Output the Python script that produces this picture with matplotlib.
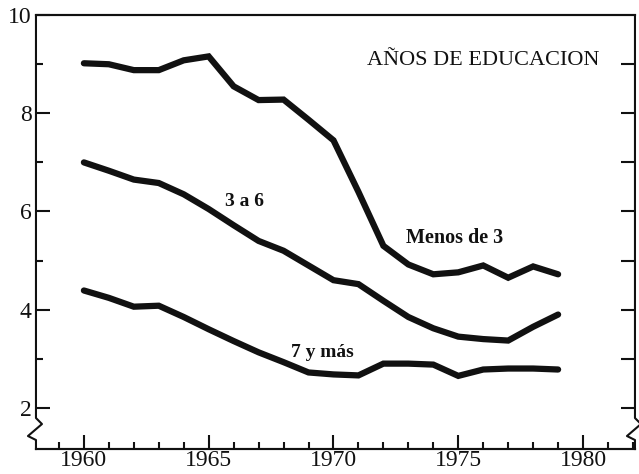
import matplotlib.pyplot as plt
from matplotlib.ticker import MultipleLocator

years = list(range(1960, 1980))
menos_de_3 = [9.02, 9.0, 8.88, 8.88, 9.08, 9.16, 8.55, 8.27, 8.28, 7.87, 7.45,
              6.4, 5.3, 4.92, 4.72, 4.76, 4.9, 4.65, 4.88, 4.72]
tres_a_seis = [7.0, 6.83, 6.65, 6.58, 6.35, 6.05, 5.72, 5.4, 5.2, 4.9, 4.6,
               4.52, 4.18, 3.85, 3.62, 3.45, 3.4, 3.37, 3.65, 3.9]
siete_y_mas = [4.39, 4.24, 4.06, 4.08, 3.85, 3.6, 3.36, 3.13, 2.93, 2.72, 2.68,
               2.66, 2.9, 2.9, 2.88, 2.65, 2.78, 2.8, 2.8, 2.78]

plt.rcParams['font.family'] = ['Liberation Serif', 'DejaVu Serif']

fig = plt.figure(figsize=(6.39, 4.74), dpi=100)
ax = fig.add_axes([0.0563, 0.0527, 0.9374, 0.9153])

ink = '#111111'
for serie in (menos_de_3, tres_a_seis, siete_y_mas):
    ax.plot(years, serie, color=ink, lw=4.5, solid_joinstyle='miter',
            solid_capstyle='round')

ax.set_xlim(1958.08, 1982.08)
ax.set_ylim(1.16, 10)

# ejes con ticks hacia adentro
ax.xaxis.set_major_locator(MultipleLocator(5))
ax.xaxis.set_minor_locator(MultipleLocator(1))
ax.yaxis.set_major_locator(MultipleLocator(2))
ax.yaxis.set_minor_locator(MultipleLocator(1))
ax.tick_params(axis='both', which='major', direction='in', length=10, width=1.5,
               labelsize=17, color=ink, labelcolor=ink)
ax.tick_params(axis='both', which='minor', direction='in', length=5, width=1.5,
               color=ink)
ax.tick_params(axis='x', pad=1)
ax.tick_params(axis='y', pad=3)
ax.set_yticks([2, 4, 6, 8, 10])
ax.set_xticks(range(1960, 1981, 5))

# ticks del lado derecho (todos iguales)
ax2 = ax.twinx()
ax2.set_ylim(ax.get_ylim())
ax2.set_yticks(range(2, 10))
ax2.tick_params(axis='y', direction='in', length=10, width=1.5, labelright=False,
                color=ink)

for a in (ax, ax2):
    a.spines['left'].set_visible(False)
    a.spines['right'].set_visible(False)
    a.spines['top'].set_linewidth(1.5)
    a.spines['bottom'].set_linewidth(1.5)
    a.spines['top'].set_color(ink)
    a.spines['bottom'].set_color(ink)

# ejes verticales con la marca de corte
w, h = 599.0, 434.0
brk_x = [0, 0, 6 / w, -8 / w, 0, 0]
brk_y = [1, 31 / h, 25 / h, 13 / h, 9 / h, 0]
ax.plot(brk_x, brk_y, color=ink, lw=1.5, transform=ax.transAxes, clip_on=False)
ax.plot([1 + v for v in brk_x], brk_y, color=ink, lw=1.5,
        transform=ax.transAxes, clip_on=False)

ax.text(1980.64, 9.08, 'AÑOS DE EDUCACION', fontsize=16, ha='right',
        va='center', color=ink)
ax.text(1966.44, 6.2, '3 a 6', fontsize=14, fontweight='bold', ha='center',
        va='center', color=ink)
ax.text(1974.84, 5.45, 'Menos de 3', fontsize=14.5, fontweight='bold',
        ha='center', va='center', color=ink)
ax.text(1969.56, 3.12, '7 y más', fontsize=14, fontweight='bold', ha='center',
        va='center', color=ink)

fig.savefig('out.png', dpi=100)
